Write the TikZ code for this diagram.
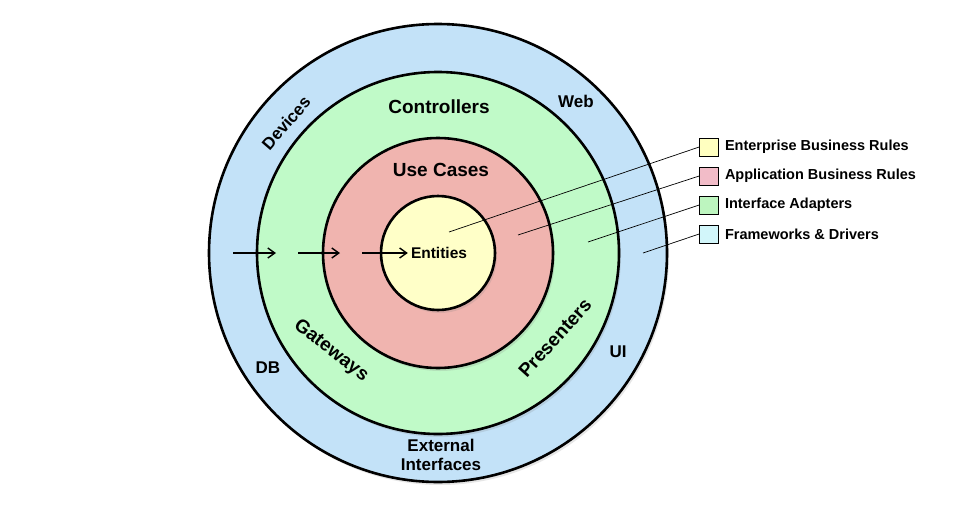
\documentclass[tikz,border=0pt]{standalone}
\usepackage{fontspec}
\setmainfont{Liberation Sans}
\usetikzlibrary{positioning, arrows.meta, shadows}

\definecolor{frameblue}{HTML}{C3E2F8}
\definecolor{adaptgreen}{HTML}{C0FAC8}
\definecolor{caseRed}{HTML}{F0B4AF}
\definecolor{entYellow}{HTML}{FFFFC8}
\definecolor{keyYellow}{HTML}{FFFFC0}
\definecolor{keyPink}{HTML}{F2BCC8}
\definecolor{keyGreen}{HTML}{BDF5BF}
\definecolor{keyCyan}{HTML}{D2F6FA}

\begin{document}
\begin{tikzpicture}[
    % GLOBAL CFG
    x=1pt, y=-1pt,
    font=\bfseries,
    >={Straight Barb[length=7pt,width=10pt]},
    % Styles
    ring/.style={% For the layers
        circle,
        draw,
        line width=2.6pt,
        drop shadow={opacity=0.2, shadow xshift=2pt, shadow yshift=-3pt},
        },
    bigtext/.style={% Layer names
        font=\fontsize{19}{21}\selectfont\bfseries,
        inner sep=1pt,
        },
    midtext/.style={% Names in the rings
        font=\fontsize{17}{19}\selectfont\bfseries,
        inner sep=1pt,
        },
    keybox/.style={% For the legend boxes
        rectangle,
        draw,
        line width=0.6pt,
        minimum width=19pt,
        minimum height=18pt,
        inner sep=0pt,
        },
    keytext/.style={% Legend text
        font=\fontsize{14.5}{16}\selectfont\bfseries,
        anchor=west,
        inner sep=1pt,
        },
    ArrowC1/.style={% Arrows into the centre
        line width=1.4pt,
        },
    ]

\useasboundingbox (0,0) rectangle (964,514);

%Start drawing the thing...
    % Draw the layers, outermost first
    \node [ring, fill=frameblue, minimum size=458pt] (frameworks) at (438,253) {};
    \node [ring, fill=adaptgreen, minimum size=362pt] (adapters) at (438,253) {};
    \node [ring, fill=caseRed, minimum size=230pt] (usecases) at (438,253) {};
    \node [ring, fill=entYellow, minimum size=114pt] (entities) at (438,253) {};

    % Names of the layers
    \node [font=\fontsize{15.5}{17}\selectfont\bfseries, inner sep=3pt] (entities_t) at (439,253) {Entities};
    \node [bigtext] (usecases_t) at (441,170) {Use Cases};
    \node [bigtext] (controllers_t) at (439,107) {Controllers};
    \node [bigtext, rotate=-38] (gateways_t) at (331,351) {Gateways};
    \node [bigtext, rotate=48] (presenters_t) at (555,338) {Presenters};

    % Outer ring
    \node [midtext, rotate=49] (devices_t) at (286,123) {Devices};
    \node [midtext] (web_t) at (576,101) {Web};
    \node [midtext] (db_t) at (268,368) {DB};
    \node [midtext] (ui_t) at (618,352) {UI};
    \node [midtext, align=center] (external_t) at (441,455) {External\\Interfaces};

    % Arrows pointing inwards
    \coordinate (arr1s) at (233,253);
    \coordinate (arr1e) at (276,253);
    \coordinate (arr2s) at (298,253);
    \coordinate (arr2e) at (340,253);
    \coordinate (arr3s) at (362,253);
    \draw [->, ArrowC1] (arr1s) -- (arr1e);
    \draw [->, ArrowC1] (arr2s) -- (arr2e);
    \draw [->, ArrowC1] (arr3s) -- (entities_t.west);

    % Legend
    \node [keybox, fill=keyYellow] (key_ent) at (709,147) {};
    \node [keybox, fill=keyPink] (key_app) at (709,176) {};
    \node [keybox, fill=keyGreen] (key_if) at (709,205) {};
    \node [keybox, fill=keyCyan] (key_fw) at (709,234) {};

    \node [keytext, right=5pt of key_ent] (key_ent_t) {Enterprise Business Rules};
    \node [keytext, right=5pt of key_app] (key_app_t) {Application Business Rules};
    \node [keytext, right=5pt of key_if] (key_if_t) {Interface Adapters};
    \node [keytext, right=5pt of key_fw] (key_fw_t) {Frameworks \& Drivers};

    % Pointers from the layers to the legend
    \coordinate (pt_ent) at (449,232);
    \coordinate (pt_app) at (518,235);
    \coordinate (pt_if) at (588,242);
    \coordinate (pt_fw) at (643,253);
    \draw [line width=0.7pt] (pt_ent) -- (key_ent.west);
    \draw [line width=0.7pt] (pt_app) -- (key_app.west);
    \draw [line width=0.7pt] (pt_if) -- (key_if.west);
    \draw [line width=0.7pt] (pt_fw) -- (key_fw.west);

\end{tikzpicture}
\end{document}
